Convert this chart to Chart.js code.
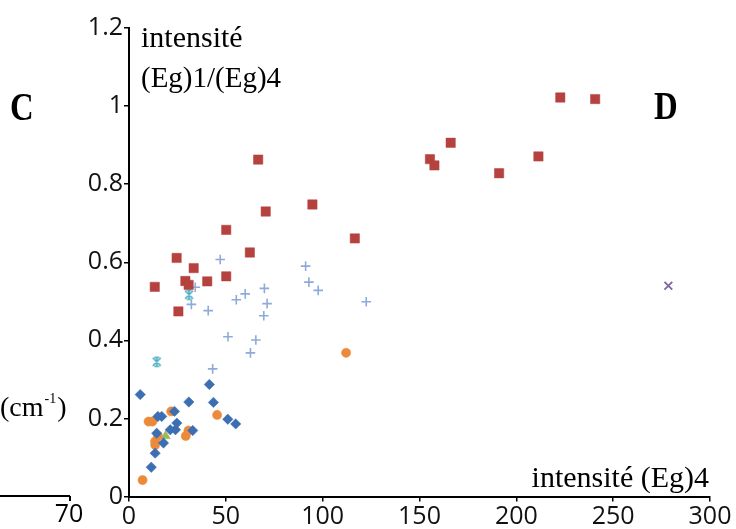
<!DOCTYPE html>
<html>
<head>
<meta charset="utf-8">
<script src="https://cdn.jsdelivr.net/npm/chart.js@4/dist/chart.umd.min.js"></script>
<style>
  html, body { margin: 0; padding: 0; background: #fff; }
  #wrap { width: 736px; height: 529px; }
</style>
</head>
<body>
<div id="wrap"><canvas id="chart" width="736" height="529"></canvas></div>
<script>
// valeurs : [intensité (Eg)4, rapport (Eg)1/(Eg)4]
const carres = [
  [13.3, 0.537], [24.6, 0.611], [25.5, 0.474], [29.1, 0.552], [30.8, 0.542],
  [33.4, 0.585], [40.4, 0.551], [50.2, 0.564], [50.2, 0.683], [62.4, 0.625],
  [66.7, 0.863], [70.6, 0.730], [94.7, 0.748], [116.6, 0.661], [155.4, 0.864],
  [157.7, 0.848], [166.1, 0.906], [191.1, 0.828], [211.4, 0.871], [222.7, 1.022],
  [240.7, 1.018]
];
const losanges = [
  [5.8, 0.261], [11.5, 0.075], [13.5, 0.111], [14.3, 0.162], [14.9, 0.205],
  [16.9, 0.205], [17.8, 0.137], [21.3, 0.171], [23.5, 0.218], [24.0, 0.171],
  [24.7, 0.188], [30.9, 0.242], [32.9, 0.169], [41.5, 0.287], [43.6, 0.241],
  [51.0, 0.198], [55.1, 0.186]
];
const cercles = [
  [7.0, 0.042], [10.1, 0.192], [12.1, 0.192], [13.5, 0.141], [13.5, 0.132],
  [14.9, 0.155], [21.8, 0.218], [29.3, 0.155], [30.7, 0.169], [45.5, 0.209],
  [112.1, 0.368]
];
const croix = [
  [32.2, 0.492], [34.2, 0.536], [40.9, 0.476], [43.2, 0.327], [47.1, 0.607],
  [51.1, 0.409], [55.4, 0.504], [60.0, 0.519], [62.7, 0.368], [65.5, 0.401],
  [69.6, 0.463], [69.9, 0.533], [71.3, 0.494], [91.2, 0.590], [92.9, 0.549],
  [97.7, 0.528], [122.5, 0.499]
];
const etoiles = [[14.3, 0.345], [31.0, 0.517]];
const xViolet = [[278.5, 0.540]];
const triangles = [[18.9, 0.155]];

const yTickLabels = ['0', '0.2', '0.4', '0.6', '0.8', '1', '1.2'];
const xTickLabels = ['0', '50', '100', '150', '200', '250', '300'];

const tickFont = { family: '"Open Sans", sans-serif', size: 25 };

// marqueur étoile façon Excel (x avec barres)
function starMarker() {
  const c = document.createElement('canvas');
  c.width = 12; c.height = 12;
  const g = c.getContext('2d');
  g.strokeStyle = '#4aaec3';
  g.lineWidth = 1.6;
  g.beginPath();
  g.moveTo(2, 2); g.lineTo(10, 10);
  g.moveTo(10, 2); g.lineTo(2, 10);
  g.moveTo(6, 1); g.lineTo(6, 11);
  g.moveTo(3.5, 1.5); g.lineTo(8.5, 1.5);
  g.moveTo(3.5, 10.5); g.lineTo(8.5, 10.5);
  g.stroke();
  return c;
}

function pts(arr) {
  return arr.map(p => ({ x: p[0], y: p[1] }));
}

const annotations = {
  id: 'annotations',
  afterDraw(chart) {
    const ctx = chart.ctx;
    ctx.save();
    ctx.fillStyle = '#000';
    ctx.textBaseline = 'alphabetic';

    ctx.font = '30px "Liberation Serif", serif';
    ctx.textAlign = 'left';
    ctx.fillText('intensité', 141, 47);
    ctx.font = '29px "Liberation Serif", serif';
    ctx.fillText('(Eg)1/(Eg)4', 141, 87);

    ctx.font = '30px "Liberation Serif", serif';
    ctx.textAlign = 'right';
    ctx.fillText('intensité (Eg)4', 709, 487);

    // lettres C et D
    ctx.font = 'bold 40px "Liberation Serif", serif';
    ctx.textAlign = 'left';
    ctx.save();
    ctx.translate(10, 120);
    ctx.scale(0.82, 1);
    ctx.fillText('C', 0, 0);
    ctx.restore();
    ctx.save();
    ctx.translate(654, 119);
    ctx.scale(0.82, 1);
    ctx.fillText('D', 0, 0);
    ctx.restore();

    // (cm-1) du graphique voisin
    ctx.font = '28px "Liberation Serif", serif';
    ctx.fillText('(cm', 0, 416);
    let w = ctx.measureText('(cm').width;
    ctx.font = '14px "Liberation Serif", serif';
    ctx.fillText('-1', w + 1, 403);
    w += ctx.measureText('-1').width + 2;
    ctx.font = '28px "Liberation Serif", serif';
    ctx.fillText(')', w, 416);

    // bout d'axe du graphique voisin
    ctx.strokeStyle = '#000';
    ctx.lineWidth = 2;
    ctx.beginPath();
    ctx.moveTo(0, 496);
    ctx.lineTo(70, 496);
    ctx.moveTo(70, 496);
    ctx.lineTo(70, 501);
    ctx.stroke();
    ctx.font = '25px "Open Sans", sans-serif';
    ctx.textAlign = 'center';
    ctx.textBaseline = 'top';
    ctx.fillText('70', 69, 502);
    ctx.restore();
  }
};

new Chart(document.getElementById('chart'), {
  type: 'scatter',
  data: {
    datasets: [
      {
        label: 'carrés',
        data: pts(carres),
        pointStyle: 'rect',
        pointRadius: 6.6,
        backgroundColor: '#b5423e',
        borderColor: '#b5423e',
        borderWidth: 0.5
      },
      {
        label: 'croix',
        data: pts(croix),
        pointStyle: 'cross',
        pointRadius: 4.8,
        borderColor: '#8eaad8',
        borderWidth: 1.6
      },
      {
        label: 'étoiles',
        data: pts(etoiles),
        pointStyle: starMarker(),
        pointRadius: 6
      },
      {
        label: 'x',
        data: pts(xViolet),
        pointStyle: 'crossRot',
        pointRadius: 5.5,
        borderColor: '#7f65a3',
        borderWidth: 1.8
      },
      {
        label: 'losanges',
        data: pts(losanges),
        pointStyle: 'rectRot',
        pointRadius: 5.2,
        backgroundColor: '#3c6fb1',
        borderColor: '#3c6fb1',
        borderWidth: 0.5
      },
      {
        label: 'cercles',
        data: pts(cercles),
        pointStyle: 'circle',
        pointRadius: 4.6,
        backgroundColor: '#ec8a3c',
        borderColor: '#ec8a3c',
        borderWidth: 0.5
      },
      {
        label: 'triangles',
        data: pts(triangles),
        pointStyle: 'triangle',
        pointRadius: 5.5,
        backgroundColor: '#9bbb59',
        borderColor: '#9bbb59',
        borderWidth: 0.5
      }
    ]
  },
  options: {
    responsive: false,
    animation: false,
    layout: { padding: { top: 28, right: 26, left: 0, bottom: 0 } },
    plugins: {
      legend: { display: false },
      tooltip: { enabled: false }
    },
    scales: {
      x: {
        type: 'linear',
        min: 0,
        max: 300,
        afterFit: s => { s.height = 32.5; },
        border: { color: '#000', width: 2 },
        grid: { drawOnChartArea: false, tickLength: 5, color: '#000', lineWidth: 1.5 },
        ticks: {
          stepSize: 50,
          padding: 0,
          color: '#111',
          font: tickFont,
          maxRotation: 0,
          callback: (v, i) => xTickLabels[i]
        }
      },
      y: {
        min: 0,
        max: 1.2,
        afterFit: s => { s.width = 129; },
        border: { color: '#000', width: 2 },
        grid: { drawOnChartArea: false, tickLength: 5, color: '#000', lineWidth: 1.5 },
        ticks: {
          stepSize: 0.2,
          padding: 1,
          color: '#111',
          font: tickFont,
          callback: (v, i) => yTickLabels[i]
        }
      }
    }
  },
  plugins: [annotations]
});
</script>
</body>
</html>
